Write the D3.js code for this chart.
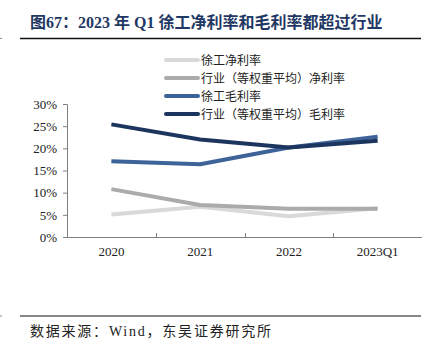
<!DOCTYPE html>
<html><head><meta charset="utf-8">
<script src="https://cdn.jsdelivr.net/npm/d3@7/dist/d3.min.js"></script>
<style>
body{margin:0;background:#fff;}
svg text{font-family:"Liberation Serif","Times New Roman","Noto Sans CJK SC",serif;}
</style></head>
<body><svg id="c" width="444" height="356"></svg>
<script>
const categories = ["2020","2021","2022","2023Q1"];
const seriesNames = ["徐工净利率","行业（等权重平均）净利率","徐工毛利率","行业（等权重平均）毛利率"];
const xcmgNet = [5.1, 6.8, 4.7, 6.5];
const industryNet = [10.8, 7.2, 6.4, 6.4];
const xcmgGross = [17.1, 16.4, 20.2, 22.6];
const industryGross = [25.4, 22.0, 20.2, 21.7];
const yTicks = [0,5,10,15,20,25,30];
const colors = ["#D9D9D9","#ABABAB","#3E6399","#1C355E"];

const series = [xcmgNet, industryNet, xcmgGross, industryGross];
const svg = d3.select("#c");

// title
svg.append("text").attr("x",30).attr("y",28)
  .attr("font-size",16).attr("font-weight","bold").attr("fill","#1F3864")
  .text("图67：2023 年 Q1 徐工净利率和毛利率都超过行业");
svg.append("line").attr("x1",20).attr("x2",421).attr("y1",38.5).attr("y2",38.5)
  .attr("stroke","#111").attr("stroke-width",1.5);
svg.append("line").attr("x1",0).attr("x2",2).attr("y1",38.5).attr("y2",38.5)
  .attr("stroke","#888").attr("stroke-width",1);

const x = d3.scaleBand().domain(categories).range([67,422]);
const y = d3.scaleLinear().domain([0,30]).range([237,104]);

// y axis
const gy = svg.append("g").attr("transform","translate(67,0)")
  .call(d3.axisLeft(y).tickValues(yTicks).tickFormat(d=>d+"%").tickSize(4).tickPadding(6));
gy.select(".domain").attr("stroke","#808080").attr("d","M-4,104.5H0.5V237");
gy.selectAll(".tick line").attr("stroke","#808080");
gy.selectAll("text").attr("font-size",13).attr("fill","#222")
  .attr("font-family","'Liberation Serif','Times New Roman',serif");

// x axis
const gx = svg.append("g").attr("transform","translate(0,237)")
  .call(d3.axisBottom(x).tickSize(0).tickPadding(10));
gx.select(".domain").attr("stroke","#808080").attr("d","M67,0.5H422");
gx.selectAll("text").attr("font-size",13).attr("fill","#222")
  .attr("font-family","'Liberation Serif','Times New Roman',serif");
// category boundary ticks
const bounds = categories.slice(1);
svg.append("g").selectAll("line").data(bounds).join("line")
  .attr("x1",d=>Math.round(x(d))+0.5).attr("x2",d=>Math.round(x(d))+0.5)
  .attr("y1",237).attr("y2",233).attr("stroke","#808080");

// lines
const line = d3.line().x((d,i)=>x(categories[i])+x.bandwidth()/2).y(d=>y(d));
series.forEach((s,i)=>{
  svg.append("path").datum(s).attr("d",line).attr("fill","none")
    .attr("stroke",colors[i]).attr("stroke-width",4).attr("stroke-linejoin","round");
});

// legend
const ly = [60, 78, 96, 114];
seriesNames.forEach((n,i)=>{
  svg.append("line").attr("x1",166).attr("x2",198).attr("y1",ly[i]).attr("y2",ly[i])
    .attr("stroke",colors[i]).attr("stroke-width",4).attr("stroke-linecap","round");
  svg.append("text").attr("x",201).attr("y",ly[i]+4.5).attr("font-size",12)
    .attr("fill","#222").attr("font-family","'Noto Sans CJK SC',sans-serif").text(n);
});

// footer
svg.append("line").attr("x1",20).attr("x2",421).attr("y1",316).attr("y2",316)
  .attr("stroke","#111").attr("stroke-width",1.2);
svg.append("line").attr("x1",0).attr("x2",2).attr("y1",316).attr("y2",316)
  .attr("stroke","#888").attr("stroke-width",1);
svg.append("text").attr("x",30).attr("y",336).attr("font-size",14).attr("fill","#222")
  .attr("textLength",241).attr("lengthAdjust","spacing")
  .text("数据来源：Wind，东吴证券研究所");
</script></body></html>
